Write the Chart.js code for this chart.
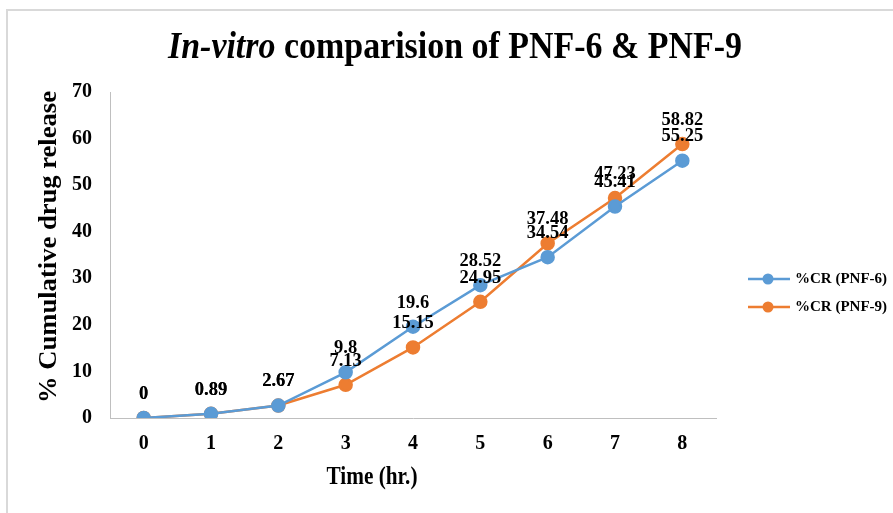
<!DOCTYPE html>
<html lang="en">
<head>
    <meta charset="utf-8">
    <title>In-vitro comparision of PNF-6 &amp; PNF-9</title>
    <style>
        html, body { margin: 0; padding: 0; background: #fff; }
        #wrap { position: relative; width: 893px; height: 513px; }
        #frame {
            position: absolute; left: 6px; top: 9px; right: 0; bottom: 0;
            border-top: 2px solid #d9d9d9; border-left: 2px solid #d9d9d9;
            pointer-events: none;
        }
    </style>
</head>
<body>
<div id="wrap">
    <canvas id="myChart" width="893" height="513"></canvas>
    <div id="frame"></div>
</div>
<script src="https://cdn.jsdelivr.net/npm/chart.js@4.4.1/dist/chart.umd.min.js"></script>
<script type="text/javascript">
    // data
    var hours = ['0', '1', '2', '3', '4', '5', '6', '7', '8'];
    var pnf6 = [0, 0.89, 2.67, 9.8, 19.6, 28.52, 34.54, 45.41, 55.25];
    var pnf9 = [0, 0.89, 2.67, 7.13, 15.15, 24.95, 37.48, 47.23, 58.82];
    var seriesNames = ['%CR (PNF-6)', '%CR (PNF-9)'];
    var yMin = 0, yMax = 70, yStep = 10;

    var blue = '#5b9bd5', orange = '#ed7d31';
    var serif = "'Liberation Serif', 'Times New Roman', serif";

    // text squeezed sideways to a given width (the source image is a bit narrow)
    function squeezedText(ctx, text, font, x, y, width, angle) {
        ctx.save();
        ctx.font = font;
        var w = ctx.measureText(text).width;
        ctx.translate(x, y);
        if (angle) ctx.rotate(angle);
        ctx.scale(width / w, 1);
        ctx.textAlign = 'center';
        ctx.textBaseline = 'middle';
        ctx.fillText(text, 0, 0);
        ctx.restore();
    }

    // title, axis titles, legend and point labels
    var decor = {
        id: 'decor',
        afterDatasetsDraw: function (chart) {
            var ctx = chart.ctx;
            ctx.save();
            ctx.fillStyle = '#000';

            // point labels, above each point
            ctx.font = 'bold 18.5px ' + serif;
            ctx.textAlign = 'center';
            ctx.textBaseline = 'middle';
            chart.data.datasets.forEach(function (ds, i) {
                chart.getDatasetMeta(i).data.forEach(function (pt, j) {
                    ctx.fillText(String(ds.data[j]), pt.x, pt.y - 24);
                });
            });

            // chart title (italic part + bold part), squeezed to the reference width
            var part1 = 'In-vitro', part2 = ' comparision of PNF-6 & PNF-9';
            var f1 = 'italic bold 38px ' + serif, f2 = 'bold 38px ' + serif;
            ctx.font = f1; var w1 = ctx.measureText(part1).width;
            ctx.font = f2; var w2 = ctx.measureText(part2).width;
            var sx = 574 / (w1 + w2);
            ctx.save();
            ctx.translate(168, 58);
            ctx.scale(sx, 1);
            ctx.textAlign = 'left';
            ctx.textBaseline = 'alphabetic';
            ctx.font = f1; ctx.fillText(part1, 0, 0);
            ctx.font = f2; ctx.fillText(part2, w1, 0);
            ctx.restore();

            // axis titles
            squeezedText(ctx, 'Time (hr.)', 'bold 25px ' + serif, 372, 478, 91, 0);
            squeezedText(ctx, '% Cumulative drug release', 'bold 26px ' + serif, 49, 247, 312, -Math.PI / 2);

            // legend
            ctx.font = 'bold 15px ' + serif;
            ctx.textAlign = 'left';
            ctx.textBaseline = 'middle';
            chart.data.datasets.forEach(function (ds, i) {
                var y = 279 + i * 28;
                ctx.strokeStyle = ds.borderColor;
                ctx.lineWidth = 2.5;
                ctx.beginPath();
                ctx.moveTo(748, y);
                ctx.lineTo(790, y);
                ctx.stroke();
                ctx.fillStyle = ds.backgroundColor;
                ctx.beginPath();
                ctx.arc(768, y, 5.5, 0, Math.PI * 2);
                ctx.fill();
                ctx.fillStyle = '#000';
                ctx.fillText(ds.label, 795, y);
            });
            ctx.restore();
        }
    };

    var ctx = document.getElementById('myChart');
    var chart = new Chart(ctx, {
        type: 'line',
        data: {
            labels: hours,
            datasets: [{
                label: seriesNames[0],
                data: pnf6,
                borderColor: blue,
                backgroundColor: blue,
                pointBackgroundColor: blue,
                pointBorderColor: blue,
                borderWidth: 2.5,
                pointRadius: 6,
                tension: 0
            }, {
                label: seriesNames[1],
                data: pnf9,
                borderColor: orange,
                backgroundColor: orange,
                pointBackgroundColor: orange,
                pointBorderColor: orange,
                borderWidth: 2.5,
                pointRadius: 6,
                tension: 0
            }]
        },
        options: {
            responsive: false,
            animation: false,
            layout: { padding: { top: 92, right: 177, bottom: 0, left: 0 } },
            plugins: {
                legend: { display: false },
                title: { display: false },
                tooltip: { enabled: false }
            },
            scales: {
                x: {
                    offset: true,
                    grid: { display: false, drawTicks: false },
                    border: { display: true, color: '#bfbfbf', width: 1 },
                    ticks: {
                        color: '#000',
                        padding: 14,
                        font: { family: serif, size: 20, weight: 'bold' }
                    },
                    afterFit: function (scale) { scale.height = 95; }
                },
                y: {
                    min: yMin,
                    max: yMax,
                    grid: { display: false, drawTicks: false },
                    border: { display: true, color: '#bfbfbf', width: 1 },
                    ticks: {
                        stepSize: yStep,
                        color: '#000',
                        padding: 18,
                        font: { family: serif, size: 20, weight: 'bold' }
                    },
                    afterFit: function (scale) { scale.width = 110; }
                }
            }
        },
        plugins: [decor]
    });
</script>
</body>
</html>
